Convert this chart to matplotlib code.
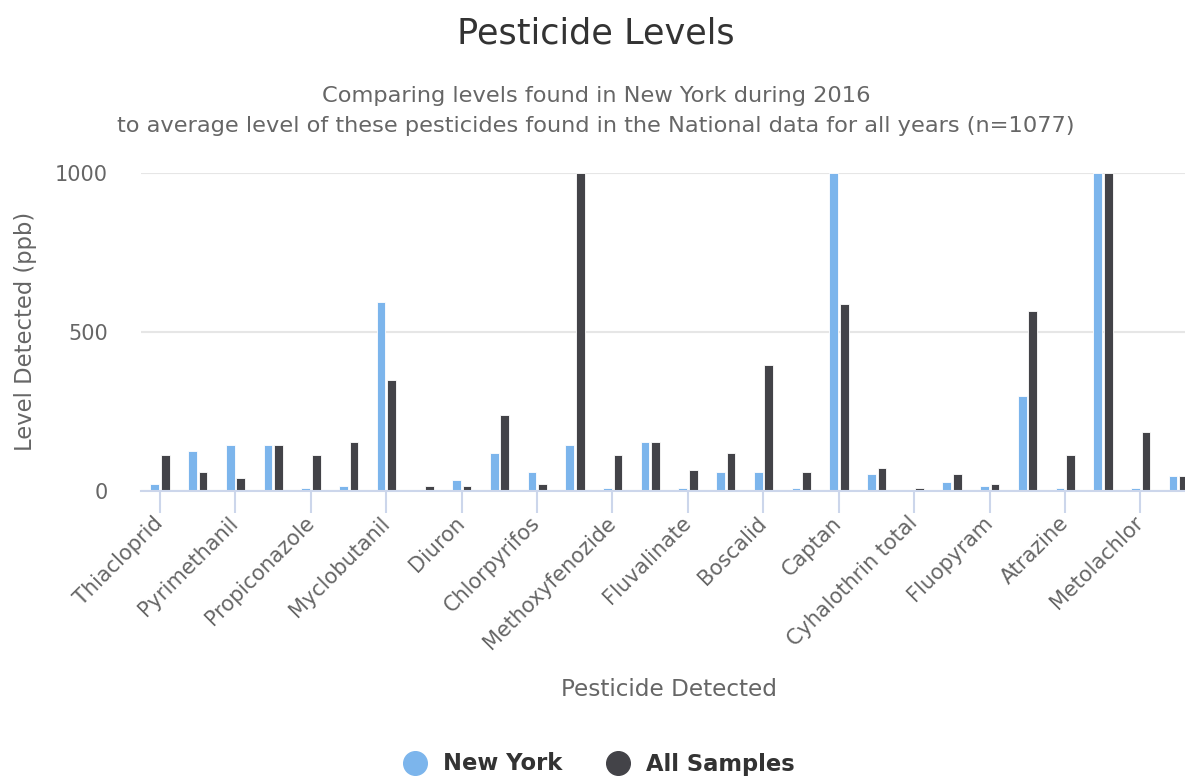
import matplotlib
matplotlib.use("Agg")
import matplotlib.pyplot as plt
import numpy as np
from matplotlib.lines import Line2D

# ---- data ----
# 28 categories; only every other one is labelled on the axis
categories = ["Thiacloprid", "", "Pyrimethanil", "", "Propiconazole", "",
              "Myclobutanil", "", "Diuron", "", "Chlorpyrifos", "",
              "Methoxyfenozide", "", "Fluvalinate", "", "Boscalid", "",
              "Captan", "", "Cyhalothrin total", "", "Fluopyram", "",
              "Atrazine", "", "Metolachlor", ""]
new_york = [21, 125, 145, 145, 7, 14, 594, 0, 34, 119,
            60, 145, 7, 153, 7, 60, 60, 7, 1000, 54,
            0, 27, 14, 297, 7, 1000, 7, 47]
all_samples = [113, 60, 40, 145, 113, 153, 350, 14, 14, 238,
               21, 1000, 113, 153, 66, 119, 397, 60, 587, 73,
               7, 54, 21, 567, 113, 1000, 185, 47]
y_ticks = [0, 500, 1000]

title = "Pesticide Levels"
subtitle = ("Comparing levels found in New York during 2016\n"
            "to average level of these pesticides found in the National data for all years (n=1077)")

c_ny = "#7cb5ec"
c_all = "#434348"

fig = plt.figure(figsize=(11.85, 7.76), dpi=100)
ax = fig.add_axes([141/1185, 1-490.7/776, 1056/1185, (490.7-173)/776])

x = np.arange(len(categories))
w = 0.23
ax.bar(x - 0.135, new_york, width=w, color=c_ny, edgecolor="white", linewidth=0.6, zorder=3)
ax.bar(x + 0.145, all_samples, width=w, color=c_all, edgecolor="white", linewidth=0.6, zorder=3)

ax.set_xlim(-0.5, len(categories) - 0.5)
ax.set_ylim(0, 1000)

for s in ["top", "right", "left"]:
    ax.spines[s].set_visible(False)
ax.spines["bottom"].set_color("#ccd6eb")
ax.spines["bottom"].set_linewidth(1.5)
ax.spines["bottom"].set_zorder(4)

ax.set_yticks(y_ticks)
ax.set_yticklabels([str(v) for v in y_ticks], fontsize=15, color="#666666")
ax.tick_params(axis="y", length=0, pad=24)
ax.yaxis.grid(True, color="#e6e6e6", linewidth=1.5, zorder=0)
ax.set_axisbelow(True)

lab_idx = [i for i, c in enumerate(categories) if c]
ax.set_xticks(lab_idx)
ax.set_xticklabels([categories[i] for i in lab_idx], fontsize=15, color="#666666",
                   rotation=45, ha="right", va="center", rotation_mode="anchor")
ax.tick_params(axis="x", length=16, width=1.5, color="#ccd6eb", pad=5)

ax.set_ylabel("Level Detected (ppb)", fontsize=16.3, color="#666666")
ax.yaxis.set_label_coords(-104/1056, 0.5)
ax.set_xlabel("Pesticide Detected", fontsize=16.7, color="#666666")
ax.xaxis.set_label_coords((669-141)/1056, (490.7-690)/317.7)
ax.xaxis.label.set_va("center")

fig.text(596/1185, 1-33/776, title, ha="center", va="center", fontsize=25.3, color="#333333")
fig.text(596/1185, 1-111/776, subtitle, ha="center", va="center", fontsize=16.2,
         color="#666666", linespacing=1.65)

handles = [Line2D([], [], marker="o", linestyle="", markersize=17, color=c_ny),
           Line2D([], [], marker="o", linestyle="", markersize=17, color=c_all)]
leg = fig.legend(handles, ["New York", "All Samples"], loc="center",
                 bbox_to_anchor=(599/1185, 1-764/776), ncol=2, frameon=False,
                 prop={"weight": "bold", "size": 16.3}, handletextpad=0.74,
                 columnspacing=1.95, handlelength=1.0)
for t in leg.get_texts():
    t.set_color("#333333")

fig.savefig("out.png", dpi=100)
